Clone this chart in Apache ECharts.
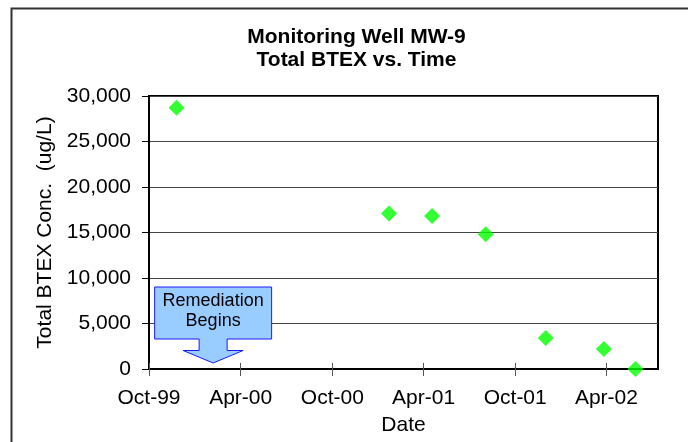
<!DOCTYPE html>
<html>
<head>
<meta charset="utf-8">
<script src="https://cdn.jsdelivr.net/npm/echarts@6/dist/echarts.min.js"></script>
<style>
	html, body { margin: 0; padding: 0; background: #fff; }
	#chart { width: 688px; height: 442px; }
</style>
</head>
<body>
<div id="chart"></div>
<script>
// MW-9 sampling dates and total BTEX (ug/L)
var sampleDates = ['1999-11-25', '2001-01-22', '2001-04-18', '2001-08-03', '2001-12-01', '2002-03-27', '2002-05-29'];
var btexValues = [28700, 17100, 16800, 14800, 3400, 2200, 0];

// date axis
var tickDates = ['1999-10-01', '2000-04-01', '2000-10-01', '2001-04-01', '2001-10-01', '2002-04-01'];
var axisStart = '1999-10-01';
var axisEnd = '2002-07-13';
var remediationDate = '2000-02-06';

var months = ['Jan', 'Feb', 'Mar', 'Apr', 'May', 'Jun', 'Jul', 'Aug', 'Sep', 'Oct', 'Nov', 'Dec'];
var font = '"Liberation Sans", Arial, sans-serif';

var toTime = function(s) {
	var p = s.split('-');
	return new Date(+p[0], +p[1] - 1, +p[2]).getTime();
};
var fmtDate = function(v) {
	var d = new Date(v);
	return months[d.getMonth()] + '-' + String(d.getFullYear()).slice(2);
};

var ticks = tickDates.map(toTime);
var points = sampleDates.map(function(d, i) { return [toTime(d), btexValues[i]]; });

var myChart = echarts.init(document.getElementById('chart'));
var option = {
	animation: false,
	title: {
		text: 'Monitoring Well MW-9\nTotal BTEX vs. Time',
		left: 351.5,
		top: 21,
		textAlign: 'center',
		textStyle: {
			fontFamily: font,
			fontSize: 21,
			fontWeight: 'bold',
			color: '#000',
			lineHeight: 23
		}
	},
	grid: {
		left: 149,
		top: 96,
		right: 30,
		bottom: 73,
		show: true,
		borderColor: '#000',
		borderWidth: 2,
		outerBoundsMode: 'none'
	},
	xAxis: [
		{
			type: 'value',
			scale: true,
			min: toTime(axisStart),
			max: toTime(axisEnd),
			name: 'Date',
			nameLocation: 'middle',
			nameGap: 46,
			nameTextStyle: { fontFamily: font, fontSize: 21, color: '#000' },
			axisLine: { lineStyle: { color: '#000', width: 2 } },
			axisTick: { show: true, inside: false, length: 7, customValues: ticks, lineStyle: { color: '#555' } },
			axisLabel: {
				customValues: ticks,
				formatter: fmtDate,
				margin: 19,
				fontFamily: font,
				fontSize: 21,
				color: '#000'
			},
			splitLine: { show: false }
		},
		{
			type: 'value',
			scale: true,
			position: 'bottom',
			min: toTime(axisStart),
			max: toTime(axisEnd),
			axisLine: { show: false },
			axisTick: { show: true, inside: true, length: 6, customValues: ticks, lineStyle: { color: '#555' } },
			axisLabel: { show: false },
			splitLine: { show: false }
		}
	],
	yAxis: {
		type: 'value',
		min: 0,
		max: 30000,
		interval: 5000,
		name: 'Total BTEX Conc.  (ug/L)',
		nameLocation: 'middle',
		nameGap: 90,
		nameTextStyle: { fontFamily: font, fontSize: 21, color: '#000' },
		axisLine: { show: true, lineStyle: { color: '#000', width: 2 } },
		axisTick: { show: true, length: 7, lineStyle: { color: '#000' } },
		axisLabel: {
			margin: 18,
			fontFamily: font,
			fontSize: 21,
			color: '#000',
			formatter: function(v) { return v.toLocaleString('en-US'); }
		},
		splitLine: { lineStyle: { color: '#444', width: 1 } }
	},
	series: [
		{
			name: 'Total BTEX',
			type: 'scatter',
			symbol: 'diamond',
			symbolSize: 16,
			itemStyle: { color: '#00ff00' },
			data: points
		}
	]
};
myChart.setOption(option);

// "Remediation Begins" callout, anchored on the date axis
var tip = myChart.convertToPixel({ xAxisIndex: 0, yAxisIndex: 0 }, [toTime(remediationDate), 0]);
var cx = tip[0], cy = tip[1] - 6;
myChart.setOption({
	graphic: [
		{
			type: 'rect',
			silent: true,
			shape: { x: 11.5, y: 8.5, width: 800, height: 600 },
			style: { fill: null, stroke: '#333', lineWidth: 2 }
		},
		{
			type: 'polygon',
			silent: true,
			shape: {
				points: [
					[cx - 58.5, cy - 76], [cx + 58.5, cy - 76], [cx + 58.5, cy - 24],
					[cx + 14, cy - 24], [cx + 14, cy - 12.5], [cx + 30, cy - 12.5],
					[cx, cy], [cx - 30, cy - 12.5], [cx - 14, cy - 12.5],
					[cx - 14, cy - 24], [cx - 58.5, cy - 24]
				]
			},
			style: { fill: '#99ccff', stroke: '#1a1aff', lineWidth: 1 }
		},
		{
			type: 'text',
			silent: true,
			style: {
				text: 'Remediation\nBegins',
				x: cx,
				y: cy - 52,
				align: 'center',
				verticalAlign: 'middle',
				fontFamily: font,
				fontSize: 18,
				lineHeight: 20,
				fill: '#000'
			}
		}
	]
});
</script>
</body>
</html>
